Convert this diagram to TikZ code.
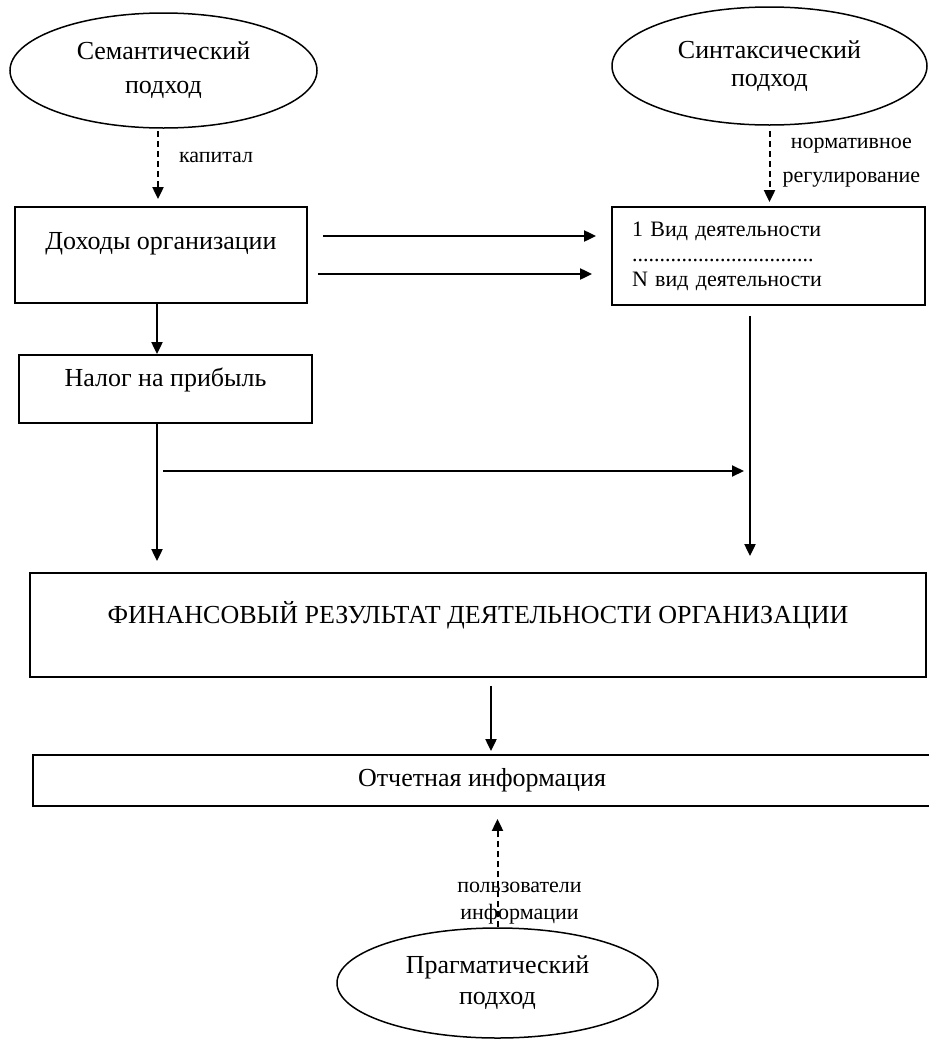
\documentclass[tikz,border=0pt]{standalone}
\usepackage{fontspec}
\setmainfont{Liberation Serif}
\usetikzlibrary{shapes.geometric, arrows.meta, positioning}
\tikzstyle{process} = [rectangle, draw, line width=0.9pt, inner sep=0pt, font=\fontsize{13}{15}\selectfont]
\tikzstyle{approach} = [ellipse, draw, line width=0.75pt, align=center, inner sep=0pt, font=\fontsize{13}{15.5}\selectfont]
\tikzstyle{remark} = [inner sep=0pt, align=center, font=\fontsize{11}{17}\selectfont]
\tikzstyle{connector} = [draw, line width=1pt, -{Triangle[length=6pt, width=5.5pt]}]
\tikzstyle{dashconn} = [connector, dash pattern=on 3pt off 2pt]

\begin{document}
\begin{tikzpicture}[x=0.5pt, y=-0.5pt]
            \useasboundingbox (0,0) rectangle (928,1039);

            \node[approach, minimum width=153.5pt, minimum height=57.5pt] (sem) at (163.5,70.5) {Семантический\\[1.5pt]подход};
            \node[approach, minimum width=157.5pt, minimum height=59pt] (syn) at (769.5,66) {Синтаксический\\[-1.5pt]подход};
            \node[approach, minimum width=160.5pt, minimum height=55pt] (prag) at (497.5,983) {Прагматический\\подход};

            \node[process, minimum width=146pt, minimum height=48pt, text height=9pt, text depth=15pt] (doh) at (161,255) {Доходы организации};
            \node[process, minimum width=146.5pt, minimum height=34pt, text height=9pt, text depth=12pt] (nal) at (165.5,389) {Налог на прибыль};
            \node[process, minimum width=156.5pt, minimum height=49pt, align=left, text width=136.5pt, inner xsep=10pt, font=\fontsize{11}{12.5}\selectfont] (vid) at (768.5,256) {1 Вид деятельности\\.................................\\N вид деятельности};
            \node[process, minimum width=448pt, minimum height=52pt, text height=9pt, text depth=10.5pt] (fin) at (478,625) {ФИНАНСОВЫЙ РЕЗУЛЬТАТ ДЕЯТЕЛЬНОСТИ ОРГАНИЗАЦИИ};
            \node[process, minimum width=449pt, minimum height=25.5pt] (otch) at (482,780.5) {Отчетная информация};

            \coordinate (taxflow) at (163,471);
            \coordinate (actflow) at (744,471);

            \draw[dashconn, shorten <=1pt, shorten >=3.5pt] ([xshift=-2.75pt]sem.south) -- ([xshift=-2.75pt]sem.south |- doh.north) node[remark, pos=0.37, right=10pt] {капитал};
            \draw[dashconn, shorten <=2.5pt, shorten >=2pt] (syn.south) -- (syn.south |- vid.north) node[remark, pos=0.46, right=6pt] {нормативное\\регулирование};

            \draw[connector, shorten <=7.5pt, shorten >=7.5pt] ([yshift=9.5pt]doh.east) -- ([yshift=9.5pt]doh.east -| vid.west);
            \draw[connector, shorten <=5pt, shorten >=9.5pt] ([yshift=-9.5pt]doh.east) -- ([yshift=-9.5pt]doh.east -| vid.west);
            \draw[connector] ([xshift=-2pt]doh.south) -- ([xshift=-2pt]doh.south |- nal.north);
            \draw[connector, shorten >=5.5pt] ([xshift=-4.25pt]nal.south) -- ([xshift=-4.25pt]nal.south |- fin.north);
            \draw[connector] (taxflow) -- (actflow);
            \draw[connector, shorten <=5pt, shorten >=8pt] ([xshift=-9.25pt]vid.south) -- ([xshift=-9.25pt]vid.south |- fin.north);

            \draw[connector, shorten <=4pt, shorten >=1.5pt] ([xshift=6.5pt]fin.south) -- ([xshift=6.5pt]fin.south |- otch.north);
            \draw[dashconn, shorten >=6pt] (prag.north) -- (prag.north |- otch.south) node[remark, pos=0.2, xshift=11pt, font=\fontsize{11}{13.5}\selectfont] {пользователи\\информации};
        \end{tikzpicture}
\end{document}
